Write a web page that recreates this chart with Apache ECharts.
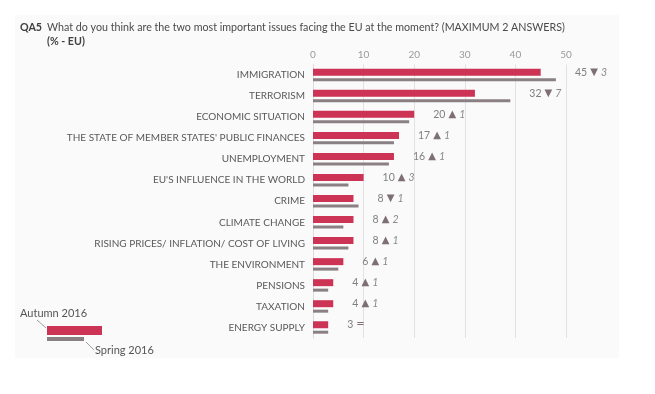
<!DOCTYPE html>
<html><head><meta charset="utf-8">
<script src="https://cdn.jsdelivr.net/npm/echarts@6/dist/echarts.min.js"></script>
<style>html,body{margin:0;padding:0;background:#fff}#c{width:655px;height:394px}</style>
</head><body><div id="c"></div>
<script>
const categories = ["IMMIGRATION","TERRORISM","ECONOMIC SITUATION","THE STATE OF MEMBER STATES' PUBLIC FINANCES","UNEMPLOYMENT","EU'S INFLUENCE IN THE WORLD","CRIME","CLIMATE CHANGE","RISING PRICES/ INFLATION/ COST OF LIVING","THE ENVIRONMENT","PENSIONS","TAXATION","ENERGY SUPPLY"];
const autumn2016 = [45,32,20,17,16,10,8,8,8,6,4,4,3];
const spring2016 = [48,39,19,16,15,7,9,6,7,5,3,3,3];
const xTicks = [0,10,20,30,40,50];

const FONT = 'Lato';
const pxPerUnit = 253/50;
function changeText(i){
  const d = autumn2016[i]-spring2016[i];
  let arrow, n;
  if (d>0){arrow='▲';n=String(d);} else if (d<0){arrow='▼';n=String(-d);} else {arrow='=';n='';}
  return '{v|'+autumn2016[i]+'} {a|'+arrow+'} {n|'+n+'}';
}
const redData = autumn2016.map((v,i)=>({
  value:v,
  label:{show:true,position:'right',distance:Math.max(0,(spring2016[i]-v))*pxPerUnit+19,formatter:changeText(i)}
}));

const chart = echarts.init(document.getElementById('c'),null,{renderer:'canvas'});
chart.setOption({
  animation:false,
  backgroundColor:'#ffffff',
  textStyle:{fontFamily:FONT},
  graphic:[
    {type:'rect',z:-10,shape:{x:15,y:15,width:604,height:343},style:{fill:'#fafafa'}},
    {type:'text',left:20,top:22,style:{text:'QA5',font:'bold 10.7px '+FONT,fill:'#404040'}},
    {type:'text',left:47,top:22,style:{text:'What do you think are the two most important issues facing the EU at the moment? (MAXIMUM 2 ANSWERS)',font:'10.7px '+FONT,fill:'#4a4a4a'}},
    {type:'text',left:47,top:36,style:{text:'(% - EU)',font:'bold 10.7px '+FONT,fill:'#404040'}},
    {type:'rect',shape:{x:47,y:326,width:55,height:9},style:{fill:'#cc3355'}},
    {type:'rect',shape:{x:47,y:337,width:37,height:4},style:{fill:'#8a7f82'}},
    {type:'line',shape:{x1:37,y1:320,x2:46,y2:328},style:{stroke:'#888',lineWidth:0.8}},
    {type:'line',shape:{x1:86,y1:342,x2:94,y2:350},style:{stroke:'#888',lineWidth:0.8}},
    {type:'text',left:20,top:308,style:{text:'Autumn 2016',font:'11px '+FONT,fill:'#555'}},
    {type:'text',left:95,top:345,style:{text:'Spring 2016',font:'11px '+FONT,fill:'#555'}}
  ],
  grid:{left:313,right:89,top:64.5,bottom:56,containLabel:false},
  xAxis:{
    type:'value',position:'top',min:0,max:50,interval:10,
    axisLine:{show:false},axisTick:{show:false},
    axisLabel:{color:'#999',fontSize:10,margin:5,fontFamily:FONT},
    splitLine:{lineStyle:{color:'#e2e2e2',width:1}}
  },
  yAxis:{
    type:'category',data:categories,inverse:true,
    axisLine:{show:true,lineStyle:{color:'#dcdcdc'}},axisTick:{show:false},
    axisLabel:{color:'#595959',fontSize:10,margin:8,fontFamily:FONT}
  },
  series:[
    {name:'Autumn 2016',type:'bar',data:redData,barWidth:7,barGap:'35%',itemStyle:{color:'#cc3355'},
     label:{color:'#808080',fontFamily:FONT,rich:{
       v:{color:'#808080',fontSize:10.5,fontFamily:FONT},
       a:{color:'#7d6f73',fontSize:10,fontFamily:'DejaVu Sans'},
       n:{color:'#8a8a8a',fontSize:10.5,fontStyle:'italic',fontFamily:FONT}
     }}},
    {name:'Spring 2016',type:'bar',data:spring2016,barWidth:3,itemStyle:{color:'#8a7f82'}}
  ]
});
</script></body></html>
